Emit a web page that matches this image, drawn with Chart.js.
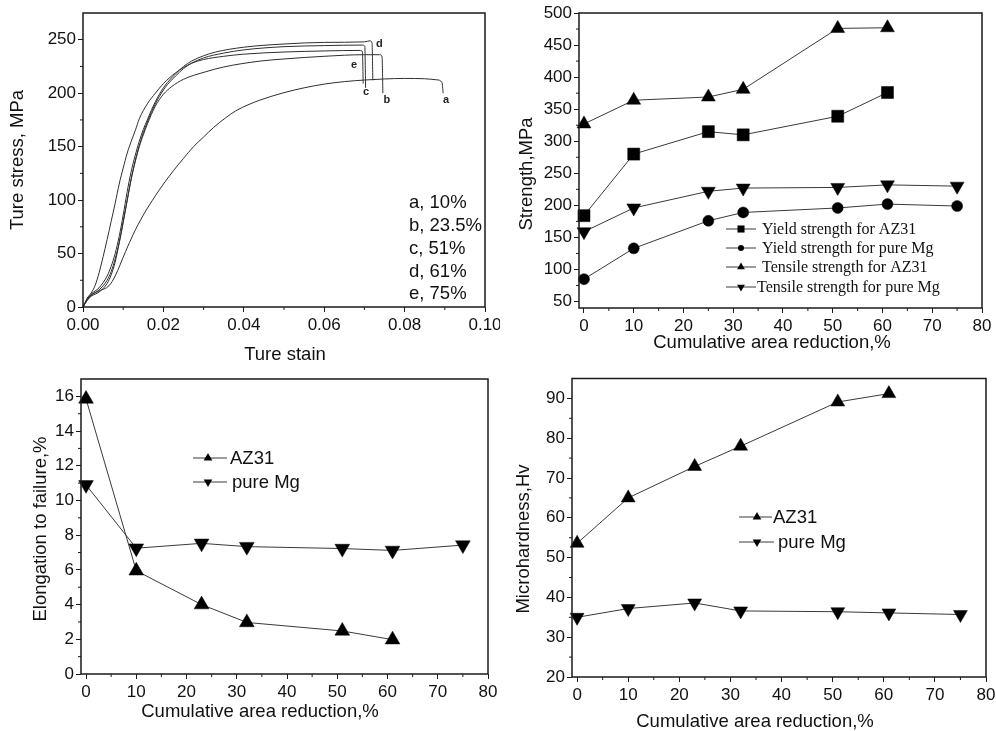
<!DOCTYPE html>
<html lang="en">
<head>
<meta charset="UTF-8">
<title>AZ31 and pure Mg after drawing</title>
<script src="https://cdn.jsdelivr.net/npm/chart.js"></script>
<style>
  html, body { margin: 0; padding: 0; background: #fff; }
  #page { position: relative; width: 996px; height: 731px; overflow: hidden; background: #fff; }
  canvas { position: absolute; }
</style>
</head>
<body>
<div id="page">
  <canvas id="stressChart" width="500" height="370" style="left:0;top:0"></canvas>
  <canvas id="strengthChart" width="496" height="370" style="left:500px;top:0"></canvas>
  <canvas id="elongationChart" width="500" height="361" style="left:0;top:370px"></canvas>
  <canvas id="hardnessChart" width="496" height="361" style="left:500px;top:370px"></canvas>
</div>
<script>
// ---- true stress / true strain curves ----
const strainA = [0, 0.001, 0.002, 0.004, 0.0065, 0.008, 0.0106, 0.0125, 0.015, 0.018, 0.020, 0.0226, 0.025, 0.0275, 0.030, 0.0325, 0.0355, 0.038, 0.0413, 0.044, 0.050, 0.055, 0.060, 0.065, 0.070, 0.075, 0.080, 0.085, 0.088, 0.0893, 0.0896];
const stressA = [0, 6, 11, 15, 20, 29, 52, 68, 86, 104, 115, 128, 139, 150, 159, 168, 177, 183.5, 189.5, 193.5, 200.5, 205, 208.5, 210.8, 212.3, 213.3, 213.8, 213.5, 212.5, 210, 200];

const strainB = [0, 0.001, 0.002, 0.004, 0.006, 0.007, 0.008, 0.009, 0.010, 0.011, 0.012, 0.013, 0.014, 0.015, 0.016, 0.017, 0.018, 0.019, 0.020, 0.022, 0.025, 0.0305, 0.035, 0.044, 0.050, 0.060, 0.070, 0.0738, 0.0744, 0.0746];
const stressB = [0, 6, 10, 14, 22, 30, 42, 60, 80, 100, 120, 136, 150, 161, 171, 180, 188, 194, 199, 206, 213, 220, 224.5, 230, 232, 234.5, 236, 236, 234, 200];

const strainC = [0, 0.001, 0.002, 0.004, 0.006, 0.007, 0.008, 0.009, 0.010, 0.011, 0.012, 0.013, 0.014, 0.015, 0.016, 0.017, 0.018, 0.019, 0.020, 0.021, 0.023, 0.025, 0.027, 0.030, 0.035, 0.040, 0.050, 0.060, 0.0695, 0.0701, 0.0703];
const stressC = [0, 7, 11, 16, 25, 33, 45, 60, 79, 100, 120, 137, 151, 163, 173, 182, 190, 197, 203, 208, 216, 223, 228, 233, 237.5, 240.5, 243.5, 244.5, 245, 244, 205];

const strainD = [0, 0.001, 0.002, 0.004, 0.006, 0.007, 0.008, 0.009, 0.010, 0.011, 0.012, 0.013, 0.014, 0.015, 0.016, 0.017, 0.018, 0.019, 0.020, 0.021, 0.023, 0.025, 0.027, 0.030, 0.033, 0.040, 0.050, 0.060, 0.070, 0.0714, 0.0719, 0.0721];
const stressD = [0, 7, 12, 18, 29, 38, 50, 66, 86, 108, 127, 142, 155, 166, 175, 184, 192, 199, 205, 210, 218, 225, 230, 235, 238.5, 243, 246, 247.5, 248, 249, 247, 212];

const strainE = [0, 0.001, 0.002, 0.003, 0.004, 0.005, 0.006, 0.007, 0.008, 0.009, 0.010, 0.011, 0.012, 0.013, 0.014, 0.016, 0.018, 0.020, 0.0214, 0.023, 0.025, 0.027, 0.030, 0.035, 0.040, 0.050, 0.060, 0.069, 0.0695, 0.0697];
const stressE = [0, 8, 13, 20, 32, 47, 63, 80, 97, 115, 130, 144, 155, 165, 176, 190, 200, 209, 214, 219, 224, 228, 231.5, 234.5, 236.5, 238.5, 239.5, 240, 238.5, 209];

const curveLetters = ['a', 'b', 'c', 'd', 'e'];
const curveReductions = ['10%', '23.5%', '51%', '61%', '75%'];
const strainTicks = [0, 0.02, 0.04, 0.06, 0.08, 0.10];
const stressTicks = [0, 50, 100, 150, 200, 250];

// ---- strength vs cumulative area reduction ----
const strengthReductionAZ31 = [0, 10, 25, 32, 51, 61];
const strengthReductionMg = [0, 10, 25, 32, 51, 61, 75];
const yieldAZ31 = [184, 280, 315, 310, 339, 376];
const yieldMg = [85, 133, 176, 189, 196, 202, 199];
const tensileAZ31 = [327, 364, 369, 381, 476, 477];
const tensileMg = [159, 196, 222, 227, 228, 232, 230];
const reductionTicks = [0, 10, 20, 30, 40, 50, 60, 70, 80];
const strengthTicks = [50, 100, 150, 200, 250, 300, 350, 400, 450, 500];

// ---- elongation and microhardness ----
const reductionAZ31 = [0, 10, 23, 32, 51, 61];
const reductionMg = [0, 10, 23, 32, 51, 61, 75];
const elongationAZ31 = [15.85, 5.95, 4.0, 2.97, 2.48, 1.98];
const elongationMg = [10.9, 7.25, 7.53, 7.34, 7.23, 7.12, 7.43];
const elongationTicks = [0, 2, 4, 6, 8, 10, 12, 14, 16];
const hardnessAZ31 = [53.6, 65, 72.9, 78, 89.1, 91.2];
const hardnessMg = [35, 37.2, 38.6, 36.6, 36.4, 36.1, 35.7];
const hardnessTicks = [20, 30, 40, 50, 60, 70, 80, 90];

const SANS = '"Liberation Sans", Arial, sans-serif';
const SERIF = '"Liberation Serif", "Times New Roman", serif';
const INK = '#111';
const LINE = '#3a3a3a';

const pts = (xs, ys) => xs.map((x, i) => ({ x, y: ys[i] }));

function drawMarker(ctx, style, x, y, r) {
  ctx.beginPath();
  if (style === 'rect') {
    const s = r * Math.SQRT1_2;
    ctx.rect(x - s, y - s, 2 * s, 2 * s);
  } else if (style === 'circle') {
    ctx.arc(x, y, r, 0, Math.PI * 2);
  } else if (style === 'up') {
    ctx.moveTo(x, y - r);
    ctx.lineTo(x + 0.866 * r, y + 0.5 * r);
    ctx.lineTo(x - 0.866 * r, y + 0.5 * r);
  } else {
    ctx.moveTo(x, y + r);
    ctx.lineTo(x + 0.866 * r, y - 0.5 * r);
    ctx.lineTo(x - 0.866 * r, y - 0.5 * r);
  }
  ctx.closePath();
  ctx.fill();
}

// frame, minor ticks, axis titles, hand-placed legend and notes
function decor(cfg) {
  return {
    id: 'decor',
    afterDraw(chart) {
      const { ctx, chartArea: a, scales } = chart;
      ctx.save();
      ctx.strokeStyle = '#1a1a1a';
      ctx.lineWidth = 1.5;
      ctx.strokeRect(a.left, a.top, a.right - a.left, a.bottom - a.top);

      ctx.lineWidth = 1;
      for (const id of ['x', 'y']) {
        const s = scales[id];
        const t = s.ticks.map(k => k.value);
        for (let i = 0; i < t.length - 1; i++) {
          const p = s.getPixelForValue((t[i] + t[i + 1]) / 2);
          ctx.beginPath();
          if (id === 'x') { ctx.moveTo(p, a.bottom); ctx.lineTo(p, a.bottom + 3); }
          else { ctx.moveTo(a.left, p); ctx.lineTo(a.left - 3, p); }
          ctx.stroke();
        }
      }

      ctx.fillStyle = INK;
      ctx.textAlign = 'center';
      ctx.textBaseline = 'middle';
      ctx.font = '18.5px ' + SANS;
      ctx.fillText(cfg.xTitle.text, cfg.xTitle.x, cfg.xTitle.y);
      ctx.save();
      ctx.translate(cfg.yTitle.x, cfg.yTitle.y);
      ctx.rotate(-Math.PI / 2);
      ctx.fillText(cfg.yTitle.text, 0, 0);
      ctx.restore();

      ctx.textAlign = 'left';
      for (const e of cfg.legend || []) {
        ctx.strokeStyle = LINE;
        ctx.beginPath();
        ctx.moveTo(e.x0, e.y);
        ctx.lineTo(e.x1, e.y);
        ctx.stroke();
        ctx.fillStyle = '#000';
        drawMarker(ctx, e.style, e.mx, e.y, e.r);
        ctx.fillStyle = INK;
        ctx.font = cfg.legendFont;
        ctx.fillText(e.text, e.tx, e.y + 1);
      }

      for (const n of cfg.notes || []) {
        ctx.font = n.font;
        ctx.fillText(n.text, n.x, n.y);
      }
      for (const n of cfg.dataNotes || []) {
        ctx.font = n.font;
        ctx.textAlign = 'center';
        ctx.fillStyle = '#222';
        ctx.fillText(n.text, scales.x.getPixelForValue(n.x), scales.y.getPixelForValue(n.y));
      }
      ctx.restore();
    }
  };
}

function axis(tickValues, min, max, fmt, isX, size) {
  return {
    type: 'linear',
    min, max,
    afterBuildTicks: s => { s.ticks = tickValues.map(v => ({ value: v })); },
    afterFit: s => {
      if (isX) { s.height = size; s.paddingLeft = 0; s.paddingRight = 0; }
      else { s.width = size; s.paddingTop = 0; s.paddingBottom = 0; }
    },
    grid: { drawOnChartArea: false, drawTicks: true, tickLength: 5, color: '#1a1a1a', tickColor: '#1a1a1a', lineWidth: 1 },
    border: { display: false },
    ticks: {
      color: INK, padding: isX ? 3 : 2, maxRotation: 0, autoSkip: false,
      font: { family: SANS, size: 17 },
      callback: fmt
    }
  };
}

function baseOptions(padding, x, y) {
  return {
    responsive: false,
    animation: false,
    layout: { padding },
    plugins: { legend: { display: false }, tooltip: { enabled: false } },
    scales: { x, y }
  };
}

function series(data, style, r) {
  return {
    data,
    showLine: true,
    borderColor: LINE,
    borderWidth: 1,
    pointStyle: style === 'rect' ? 'rect' : style === 'circle' ? 'circle' : 'triangle',
    pointRotation: style === 'down' ? 180 : 0,
    pointRadius: r,
    pointBackgroundColor: '#000',
    pointBorderColor: '#000',
    pointBorderWidth: 0.5,
    clip: false
  };
}

// stress-strain
const curves = [[strainA, stressA], [strainB, stressB], [strainC, stressC], [strainD, stressD], [strainE, stressE]];
new Chart(document.getElementById('stressChart'), {
  type: 'scatter',
  data: {
    datasets: curves.map(([x, y]) => ({
      data: pts(x, y),
      showLine: true,
      borderColor: '#2e2e2e',
      borderWidth: 1,
      pointRadius: 0,
      cubicInterpolationMode: 'monotone',
      clip: false
    }))
  },
  options: baseOptions({ left: 0, top: 13, right: 15, bottom: 0 },
    axis(strainTicks, 0, 0.1, v => v.toFixed(2), true, 63),
    axis(stressTicks, 0, 275, v => String(v), false, 83)),
  plugins: [decor({
    xTitle: { text: 'Ture stain', x: 285, y: 355 },
    yTitle: { text: 'Ture stress, MPa', x: 18, y: 160 },
    notes: curveLetters.map((l, i) => ({ text: l + ', ' + curveReductions[i], x: 409, y: [203, 226, 249, 272, 294][i], font: '18.5px ' + SANS })),
    dataNotes: [
      { text: 'a', x: 0.0903, y: 194, font: 'bold 11px ' + SANS },
      { text: 'b', x: 0.0756, y: 194, font: 'bold 11px ' + SANS },
      { text: 'c', x: 0.0704, y: 201, font: 'bold 11px ' + SANS },
      { text: 'd', x: 0.0737, y: 246, font: 'bold 11px ' + SANS },
      { text: 'e', x: 0.0674, y: 226, font: 'bold 11px ' + SANS }
    ]
  })]
});

// strength
new Chart(document.getElementById('strengthChart'), {
  type: 'scatter',
  data: {
    datasets: [
      series(pts(strengthReductionMg, yieldMg), 'circle', 5.5),
      series(pts(strengthReductionMg, tensileMg), 'down', 8),
      series(pts(strengthReductionAZ31, yieldAZ31), 'rect', 8.5),
      series(pts(strengthReductionAZ31, tensileAZ31), 'up', 8)
    ]
  },
  options: baseOptions({ left: 0, top: 13, right: 14, bottom: 0 },
    axis(reductionTicks, -1, 80, v => String(v), true, 62),
    axis(strengthTicks, 40, 500, v => String(v), false, 79)),
  plugins: [decor({
    xTitle: { text: 'Cumulative area reduction,%', x: 272, y: 343 },
    yTitle: { text: 'Strength,MPa', x: 27, y: 174 },
    legendFont: '16px ' + SERIF,
    legend: [
      { text: 'Yield strength for AZ31', y: 229, x0: 226, x1: 256, mx: 241, tx: 262, style: 'rect', r: 5 },
      { text: 'Yield strength for pure Mg', y: 248, x0: 226, x1: 256, mx: 241, tx: 262, style: 'circle', r: 3 },
      { text: 'Tensile strength for AZ31', y: 267, x0: 226, x1: 256, mx: 241, tx: 262, style: 'up', r: 4.5 },
      { text: 'Tensile strength for pure Mg', y: 287, x0: 226, x1: 256, mx: 241, tx: 257, style: 'down', r: 4.5 }
    ]
  })]
});

// elongation
new Chart(document.getElementById('elongationChart'), {
  type: 'scatter',
  data: {
    datasets: [
      series(pts(reductionMg, elongationMg), 'down', 8.5),
      series(pts(reductionAZ31, elongationAZ31), 'up', 8.5)
    ]
  },
  options: baseOptions({ left: 0, top: 4, right: 12, bottom: 0 },
    axis(reductionTicks, -1, 80, v => String(v), true, 57),
    axis(elongationTicks, 0, 17, v => String(v), false, 81)),
  plugins: [decor({
    xTitle: { text: 'Cumulative area reduction,%', x: 260, y: 342 },
    yTitle: { text: 'Elongation to failure,%', x: 41, y: 159 },
    legendFont: '18.5px ' + SANS,
    legend: [
      { text: 'AZ31', y: 88, x0: 193, x1: 227, mx: 208, tx: 230, style: 'up', r: 5 },
      { text: 'pure Mg', y: 112, x0: 193, x1: 227, mx: 208, tx: 232, style: 'down', r: 5 }
    ]
  })]
});

// microhardness
new Chart(document.getElementById('hardnessChart'), {
  type: 'scatter',
  data: {
    datasets: [
      series(pts(reductionMg, hardnessMg), 'down', 8),
      series(pts(reductionAZ31, hardnessAZ31), 'up', 8)
    ]
  },
  options: baseOptions({ left: 0, top: 3, right: 10, bottom: 0 },
    axis(reductionTicks, -1, 80, v => String(v), true, 54),
    axis(hardnessTicks, 20, 95, v => String(v), false, 72)),
  plugins: [decor({
    xTitle: { text: 'Cumulative area reduction,%', x: 255, y: 352 },
    yTitle: { text: 'Microhardness,Hv', x: 24, y: 169 },
    legendFont: '18.5px ' + SANS,
    legend: [
      { text: 'AZ31', y: 147, x0: 239, x1: 272, mx: 257, tx: 273, style: 'up', r: 5 },
      { text: 'pure Mg', y: 172, x0: 239, x1: 274, mx: 257, tx: 278, style: 'down', r: 5 }
    ]
  })]
});
</script>
</body>
</html>
